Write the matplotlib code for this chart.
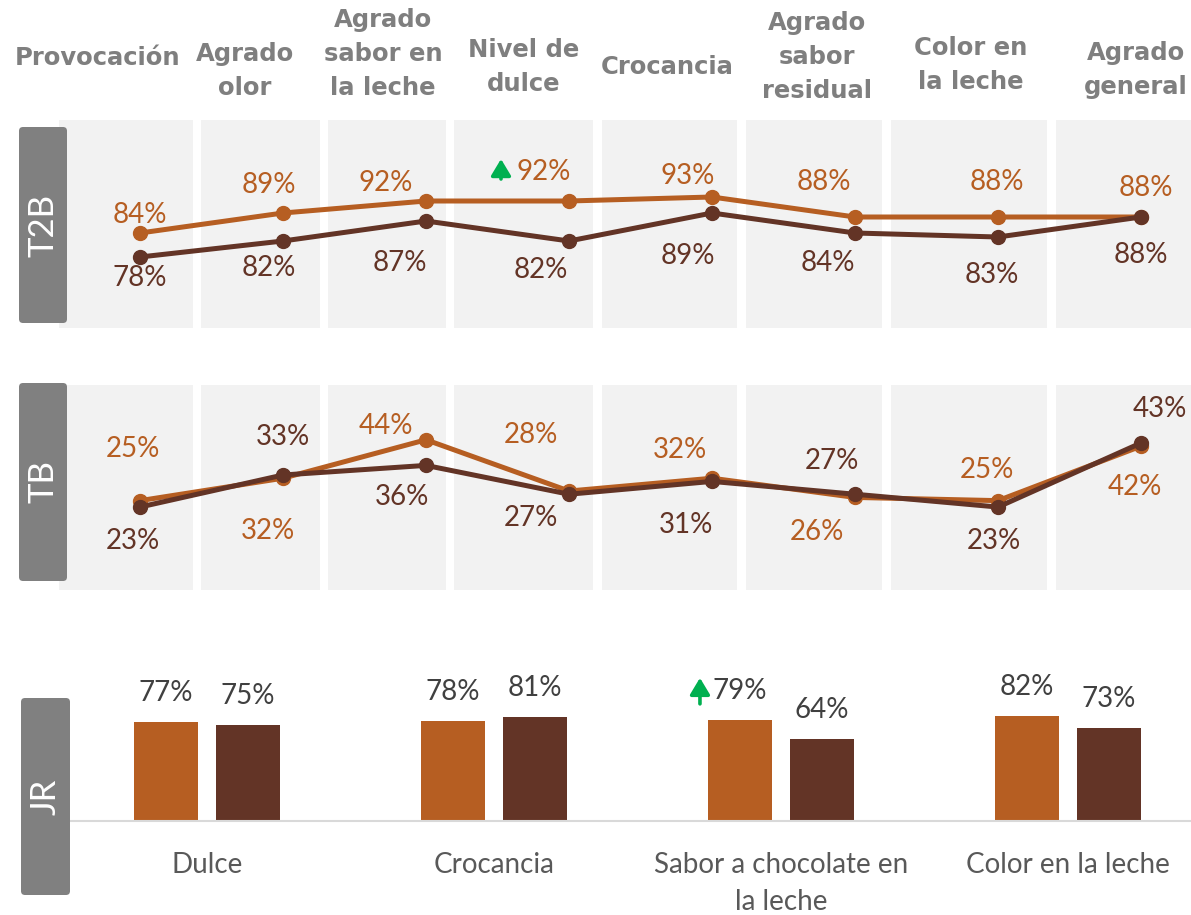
import numpy as np
import matplotlib.pyplot as plt
from matplotlib.patches import FancyBboxPatch
from matplotlib.transforms import offset_copy

# datos
criterios = ['Provocación', 'Agrado\nolor', 'Agrado\nsabor en\nla leche', 'Nivel de\ndulce',
             'Crocancia', 'Agrado\nsabor\nresidual', 'Color en\nla leche', 'Agrado\ngeneral']
t2b_a = [84, 89, 92, 92, 93, 88, 88, 88]
t2b_b = [78, 82, 87, 82, 89, 84, 83, 88]
tb_a = [25, 32, 44, 28, 32, 26, 25, 42]
tb_b = [23, 33, 36, 27, 31, 27, 23, 43]
jr_cats = ['Dulce', 'Crocancia', 'Sabor a chocolate en\nla leche', 'Color en la leche']
jr_a = [77, 78, 79, 82]
jr_b = [75, 81, 64, 73]

naranja = '#B65E22'
cafe = '#633426'
verde = '#00B050'
gris_fondo = '#F2F2F2'

W, H = 1191, 915
fig = plt.figure(figsize=(W / 100, H / 100), dpi=100)


def px_axes(x0, y0, x1, y1):
    return fig.add_axes([x0 / W, 1 - y1 / H, (x1 - x0) / W, (y1 - y0) / H])


def px2x(p):
    return (p - 140) / 143.0


col_edges = [(59, 193), (201, 320), (328, 446), (454, 593), (602, 737),
             (746, 882), (891, 1047), (1056, 1191)]
header_pos = [(98, 58), (245, 71), (383, 54), (524, 67), (667, 67), (817, 57), (971, 65), (1136, 70)]

# desplazamientos de etiquetas (pixeles)
t2b_off_a = [(0, 18), (-14, 28), (-40, 18), (-25, 29), (-24, 21), (-31, 35), (-1, 35), (5, 29)]
t2b_off_b = [(0, -21), (-14, -27), (-26, -42), (-28, -29), (-24, -43), (-27, -30), (-6, -38), (0, -38)]
tb_off_a = [(-7, 52), (-15, -53), (-40, 14), (-38, 56), (-32, 28), (-38, -35), (-11, 31), (-6, -41)]
tb_off_b = [(-7, -34), (0, 38), (-24, -32), (-38, -24), (-26, -44), (-23, 33), (-4, -34), (19, 34)]

lbl_font = 'Lato'
x = np.arange(len(t2b_a))


def line_panel(y0, y1, ylim, va, vb, off_a, off_b):
    ax = px_axes(59, y0, 1191, y1)
    ax.set_xlim(px2x(59), px2x(1191))
    ax.set_ylim(*ylim)
    for l, r in col_edges:
        ax.axvspan(px2x(l), px2x(r), color=gris_fondo, lw=0, zorder=0)
    ax.plot(x, va, color=naranja, lw=3.6, marker='o', ms=10, zorder=3)
    ax.plot(x, vb, color=cafe, lw=3.6, marker='o', ms=10, zorder=4)
    for i in range(len(x)):
        ax.annotate(f'{va[i]}%', (x[i], va[i]), xytext=off_a[i], textcoords='offset pixels',
                    ha='center', va='center', color=naranja, fontsize=20, family=lbl_font)
        ax.annotate(f'{vb[i]}%', (x[i], vb[i]), xytext=off_b[i], textcoords='offset pixels',
                    ha='center', va='center', color=cafe, fontsize=20, family=lbl_font)
    ax.axis('off')
    return ax


ax1 = line_panel(120, 328, (60.25, 112.25), t2b_a, t2b_b, t2b_off_a, t2b_off_b)
ax2 = line_panel(385, 590, (-2.9, 61.1), tb_a, tb_b, tb_off_a, tb_off_b)


def flecha(ax, xy, dx, dy0, dy1):
    ax.annotate('', xy=xy, xycoords=offset_copy(ax.transData, fig=fig, x=dx, y=dy1, units='dots'),
                xytext=xy, textcoords=offset_copy(ax.transData, fig=fig, x=dx, y=dy0, units='dots'),
                arrowprops=dict(arrowstyle='-|>,head_width=0.3,head_length=0.5', color=verde,
                                lw=2.6, shrinkA=0, shrinkB=0, mutation_scale=20))


flecha(ax1, (3, t2b_a[3]), -68, 22, 42)

# barras JR
ax3 = px_axes(70, 640, 1191, 821)
ax3.set_xlim((70 - 207) / 287, (1191 - 207) / 287)
ax3.set_ylim(0, (821 - 640) / 1.28)
xb = np.arange(len(jr_a))
off, bw = 0.143, 0.223
ax3.bar(xb - off, jr_a, width=bw, color=naranja)
ax3.bar(xb + off, jr_b, width=bw, color=cafe)
for i in xb:
    ax3.annotate(f'{jr_a[i]}%', (i - off, jr_a[i]), xytext=(0, 29), textcoords='offset pixels',
                 ha='center', va='center', color='#404040', fontsize=20, family=lbl_font)
    ax3.annotate(f'{jr_b[i]}%', (i + off, jr_b[i]), xytext=(0, 29), textcoords='offset pixels',
                 ha='center', va='center', color='#404040', fontsize=20, family=lbl_font)
flecha(ax3, (2 - off, jr_a[2]), -40, 16, 42)
for s in ['top', 'right', 'left']:
    ax3.spines[s].set_visible(False)
ax3.spines['bottom'].set_color('#D9D9D9')
ax3.spines['bottom'].set_linewidth(1.5)
ax3.set_yticks([])
ax3.set_xticks(xb)
ax3.set_xticklabels(jr_cats, fontsize=20, family=lbl_font, color='#595959', linespacing=1.55)
ax3.tick_params(axis='x', length=0, pad=22)

# encabezados
for txt, (hx, hy) in zip(criterios, header_pos):
    fig.text(hx / W, 1 - hy / H, txt, ha='center', va='center', fontsize=17.5, fontweight='bold',
             color='#7F7F7F', linespacing=1.55)

# cajas grises laterales
cajas = [('T2B', 19, 127, 67, 323), ('TB', 19, 383, 67, 581), ('JR', 21, 698, 70, 895)]
for txt, x0, y0, x1, y1 in cajas:
    p = FancyBboxPatch((x0 / 100, (H - y1) / 100), (x1 - x0) / 100, (y1 - y0) / 100,
                       boxstyle='round,pad=0,rounding_size=0.04', transform=fig.dpi_scale_trans,
                       facecolor='#808080', edgecolor='none', zorder=5)
    fig.add_artist(p)
    fig.text((x0 + x1) / 2 / W, 1 - (y0 + y1) / 2 / H, txt, rotation=90, ha='center', va='center',
             color='white', fontsize=25, family=lbl_font, zorder=6)

fig.savefig('out.png', dpi=100)
